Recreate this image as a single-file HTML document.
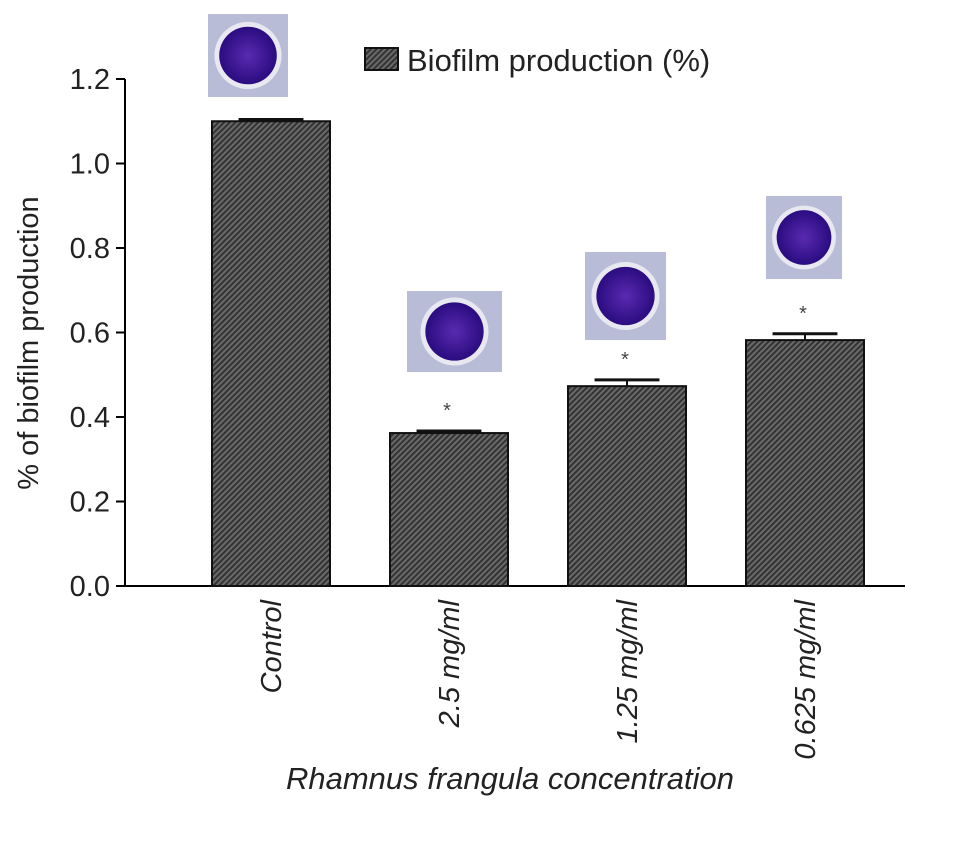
<!DOCTYPE html>
<html><head><meta charset="utf-8"><style>
body{margin:0;background:#fff;font-family:"Liberation Sans",Arial,sans-serif}
</style></head><body>
<svg width="969" height="837" viewBox="0 0 969 837">
<defs>
<pattern id="hatch" width="4" height="4" patternUnits="userSpaceOnUse" patternTransform="rotate(45)">
<rect width="4" height="4" fill="#6a6a6a"/><rect width="2" height="4" fill="#333"/>
</pattern>
<radialGradient id="well" cx="50%" cy="50%" r="50%"><stop offset="0" stop-color="#5a2ab0"/><stop offset="1" stop-color="#2a0c80"/></radialGradient>
</defs>
</svg>
<script>
const categories=["Control","2.5 mg/ml","1.25 mg/ml","0.625 mg/ml"];
const values=[1.10,0.362,0.473,0.582];
const errors=[0.004,0.005,0.015,0.015];
const yTicks=[0,0.2,0.4,0.6,0.8,1.0,1.2];
const svg=document.querySelector('svg');
const NS="http://www.w3.org/2000/svg";
const y0=586,y1=79,ymax=1.2;
const Y=v=>y0-(v/ymax)*(y0-y1);
const X=i=>212+i*178;
const bw=118;
function mk(t,a,p){const e=document.createElementNS(NS,t);for(const k in a)e.setAttribute(k,a[k]);(p||svg).appendChild(e);return e;}
let ax=mk('line',{x1:125,y1:y0,x2:905,y2:y0,stroke:'#000','stroke-width':2});


let ay=mk('line',{x1:125,y1:y1,x2:125,y2:y0,stroke:'#000','stroke-width':2});


yTicks.forEach(v=>{
 mk('line',{x1:116,y1:Y(v),x2:125,y2:Y(v),stroke:'#000','stroke-width':2});
 const t=mk('text',{x:110,y:Y(v)+10,'text-anchor':'end','font-size':29,fill:'#222'});
 t.textContent=v.toFixed(1);
 
 
});
const wells=[[208,14,80,83],[407,291,95,81],[585,252,81,88],[766,196,76,83]];
values.forEach((v,i)=>{
 const x=X(i);
 const b=mk('rect',{x:x,y:Y(v),width:bw,height:y0-Y(v),fill:'url(#hatch)',stroke:'#111','stroke-width':2});
 
 
 const cx=x+bw/2, w=bw*0.55;
 mk('line',{x1:cx,y1:Y(v+errors[i]),x2:cx,y2:Y(v),stroke:'#111','stroke-width':2});
 mk('line',{x1:cx-w/2,y1:Y(v+errors[i]),x2:cx+w/2,y2:Y(v+errors[i]),stroke:'#111','stroke-width':3});
 if(i>0){const s=mk('text',{x:cx-2,y:Y(v+errors[i])-14,'text-anchor':'middle','font-size':20,fill:'#444'});s.textContent='*';
  
  }
 const l=mk('text',{transform:`translate(${cx+10},600) rotate(-90)`,'text-anchor':'end','font-size':29,'font-style':'italic',fill:'#222'});
 l.textContent=categories[i];
 
 
 const [wx,wy,ww,wh]=wells[i];
 const g=mk('g',{});
 
 
 mk('rect',{x:wx,y:wy,width:ww,height:wh,fill:'#b9bcd6'},g);
 mk('circle',{cx:wx+ww/2,cy:wy+wh/2,r:Math.min(ww,wh)*0.42,fill:'#e8e8f0'},g);
 mk('circle',{cx:wx+ww/2,cy:wy+wh/2,r:Math.min(ww,wh)*0.36,fill:'url(#well)'},g);
});
let lg=mk('rect',{x:365,y:48,width:33,height:22,fill:'url(#hatch)',stroke:'#111','stroke-width':2});


let lt=mk('text',{x:407,y:71,'font-size':31,fill:'#222'});lt.textContent='Biofilm production (%)';


let yt=mk('text',{transform:'translate(38,343) rotate(-90)','text-anchor':'middle','font-size':29,fill:'#222'});yt.textContent='% of biofilm production';


let xt=mk('text',{x:510,y:789,'text-anchor':'middle','font-size':31,'font-style':'italic',fill:'#222'});xt.textContent='Rhamnus frangula concentration';


</script>
</body></html>
